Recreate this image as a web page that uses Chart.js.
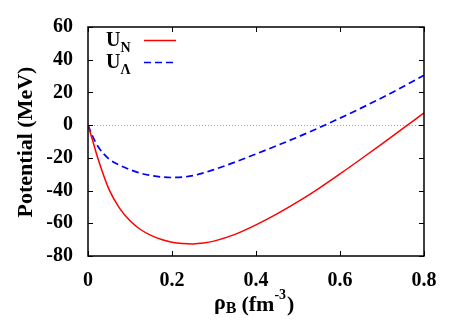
<!DOCTYPE html>
<html>
<head>
<meta charset="utf-8">
<script src="https://cdn.jsdelivr.net/npm/chart.js@4.4.1/dist/chart.umd.min.js"></script>
<style>
  html, body { margin: 0; padding: 0; background: #ffffff; }
  #wrap { width: 463px; height: 324px; }
</style>
</head>
<body>
<div id="wrap"><canvas id="chart-potential" width="463" height="324"></canvas></div>
<script>
// baryon density (fm^-3)
const densities = [0, 0.01, 0.025, 0.05, 0.075, 0.1, 0.125, 0.15, 0.175, 0.2, 0.225, 0.25, 0.275, 0.3, 0.35, 0.4, 0.45, 0.5, 0.55, 0.6, 0.65, 0.7, 0.75, 0.8]
// nucleon potential U_N (MeV)
const potentialN = [0, -8.5, -21.5, -39.3, -50.7, -58.5, -63.8, -67.4, -69.9, -71.6, -72.4, -72.6, -72.1, -70.9, -66.8, -61, -54.3, -46.8, -38.6, -29.8, -20.7, -11.4, -2, 7.5]
// lambda potential U_Lambda (MeV)
const potentialL = [0, -6.3, -13.5, -20.7, -24.4, -27.2, -29.4, -30.8, -31.7, -32, -31.75, -30.9, -29.2, -27.2, -22.6, -17.6, -12.5, -7.2, -1.6, 4.3, 10.4, 16.8, 23.5, 30.5]

const xTicks = [0, 0.2, 0.4, 0.6, 0.8]
const yTicks = [-80, -60, -40, -20, 0, 20, 40, 60]

const serif = '"Liberation Serif", "Times New Roman", serif'

const toPoints = (xs, ys) => xs.map((x, i) => ({ x: x, y: ys[i] }))

const decorations = {
    id: 'decorations',
    beforeDatasetsDraw(chart) {
        const { ctx, chartArea, scales } = chart
        const y0 = scales.y.getPixelForValue(0)
        ctx.save()
        ctx.strokeStyle = '#a0a0a0'
        ctx.lineWidth = 1
        ctx.setLineDash([1, 2])
        ctx.beginPath()
        ctx.moveTo(chartArea.left, Math.round(y0) + 0.5)
        ctx.lineTo(chartArea.right, Math.round(y0) + 0.5)
        ctx.stroke()
        ctx.restore()
    },
    afterDraw(chart) {
        const { ctx, chartArea, scales } = chart
        const { left, right, top, bottom } = chartArea
        ctx.save()

        // frame
        ctx.strokeStyle = '#000000'
        ctx.lineWidth = 1.5
        ctx.strokeRect(left, top, right - left, bottom - top)

        // inward ticks on all sides
        ctx.lineWidth = 1
        ctx.beginPath()
        xTicks.forEach(v => {
            const px = Math.round(scales.x.getPixelForValue(v)) + 0.5
            ctx.moveTo(px, bottom); ctx.lineTo(px, bottom - 5)
            ctx.moveTo(px, top); ctx.lineTo(px, top + 5)
        })
        yTicks.forEach(v => {
            const py = Math.round(scales.y.getPixelForValue(v)) + 0.5
            ctx.moveTo(left, py); ctx.lineTo(left + 5, py)
            ctx.moveTo(right, py); ctx.lineTo(right - 5, py)
        })
        ctx.stroke()

        ctx.fillStyle = '#000000'
        ctx.textBaseline = 'alphabetic'

        // y axis title
        ctx.save()
        ctx.translate(31.5, 142)
        ctx.rotate(-Math.PI / 2)
        ctx.textAlign = 'center'
        ctx.font = 'bold 22px ' + serif
        ctx.fillText('Potential (MeV)', 0, 0)
        ctx.restore()

        // x axis title: rho_B (fm^-3)
        ctx.textAlign = 'left'
        let x = 214
        const base = 311
        ctx.font = 'bold 22px ' + serif
        ctx.fillText('\u03C1', x, base - 2)
        x += ctx.measureText('\u03C1').width
        ctx.font = 'bold 16px ' + serif
        ctx.fillText('B', x, base + 2)
        x += ctx.measureText('B').width + 5
        ctx.font = 'bold 22px ' + serif
        ctx.fillText('(fm', x, base)
        x += ctx.measureText('(fm').width
        ctx.font = 'bold 14px ' + serif
        ctx.fillText('-3', x, base - 12)
        x += ctx.measureText('-3').width + 1
        ctx.font = 'bold 22px ' + serif
        ctx.fillText(')', x, base)

        // legend
        const entries = [
            { sub: 'N', color: '#ff0000', dash: [], y: 40 },
            { sub: '\u039B', color: '#0000ff', dash: [7, 4], y: 62 }
        ]
        entries.forEach(e => {
            ctx.font = 'bold 20px ' + serif
            ctx.fillText('U', 106, e.y + 6)
            const w = ctx.measureText('U').width
            ctx.font = 'bold 14px ' + serif
            ctx.fillText(e.sub, 106 + w, e.y + 12)
            ctx.strokeStyle = e.color
            ctx.lineWidth = 1.5
            ctx.setLineDash(e.dash)
            ctx.beginPath()
            ctx.moveTo(144, e.y + 0.5)
            ctx.lineTo(176, e.y + 0.5)
            ctx.stroke()
        })

        ctx.restore()
    }
}

new Chart(document.getElementById('chart-potential').getContext('2d'), {
    type: 'line',
    data: {
        datasets: [{
            label: 'U_N',
            data: toPoints(densities, potentialN),
            borderColor: '#ff0000',
            borderWidth: 1.5,
            pointRadius: 0,
            cubicInterpolationMode: 'monotone',
            fill: false
        }, {
            label: 'U_Lambda',
            data: toPoints(densities, potentialL),
            borderColor: '#0000ff',
            borderWidth: 1.7,
            borderDash: [7, 4],
            pointRadius: 0,
            cubicInterpolationMode: 'monotone',
            fill: false
        }]
    },
    options: {
        responsive: false,
        animation: false,
        events: [],
        layout: { padding: { left: 0, right: 39, top: 27, bottom: 0 } },
        plugins: {
            legend: { display: false },
            tooltip: { enabled: false }
        },
        scales: {
            x: {
                type: 'linear',
                min: 0,
                max: 0.8,
                afterFit: scale => { scale.height = 68 },
                afterBuildTicks: scale => { scale.ticks = xTicks.map(v => ({ value: v })) },
                grid: { display: false, drawTicks: false },
                border: { display: false },
                ticks: {
                    padding: 13,
                    color: '#000000',
                    font: { family: serif, size: 20, weight: 'bold' },
                    callback: v => v === 0 ? '0' : v.toFixed(1)
                }
            },
            y: {
                min: -80,
                max: 60,
                afterFit: scale => { scale.width = 88 },
                afterBuildTicks: scale => { scale.ticks = yTicks.map(v => ({ value: v })) },
                grid: { display: false, drawTicks: false },
                border: { display: false },
                ticks: {
                    padding: 15,
                    color: '#000000',
                    font: { family: serif, size: 20, weight: 'bold' }
                }
            }
        }
    },
    plugins: [decorations]
})
</script>
</body>
</html>
